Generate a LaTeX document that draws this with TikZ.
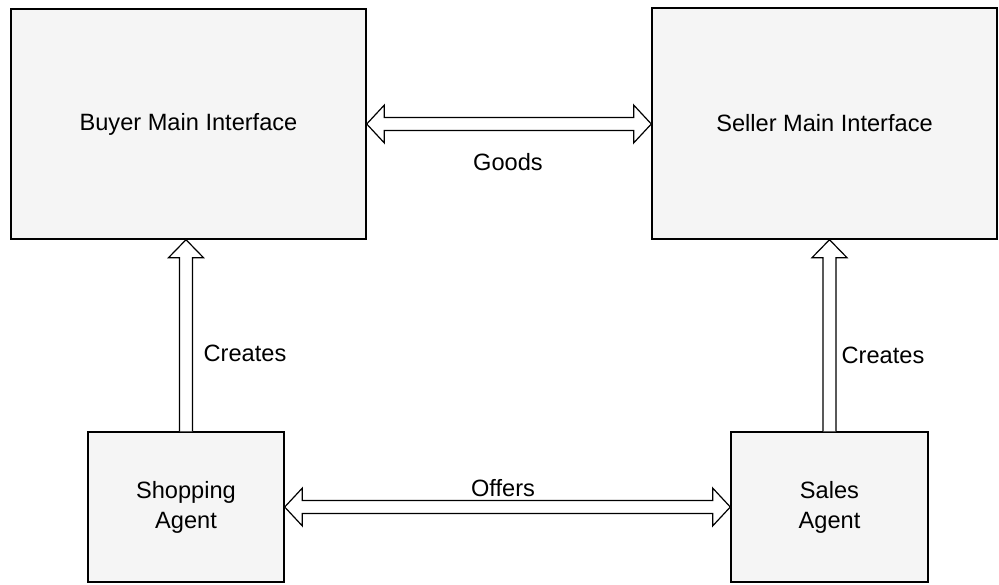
\documentclass[tikz,border=0pt]{standalone}
\usepackage{fontspec}
\setmainfont{Liberation Sans}
\usetikzlibrary{calc}
\begin{document}
\begin{tikzpicture}[x=1pt,y=-1pt,
  box/.style={draw=black,line width=1.4pt,fill=black!4,inner sep=0pt,
    align=center,font=\fontsize{23.6}{30}\selectfont},
  lbl/.style={inner sep=0pt,font=\fontsize{23.6}{28}\selectfont},
  blockarrow/.style={draw=black,line width=1.2pt,fill=white,line join=miter}]
\useasboundingbox (0,0) rectangle (999,584);

% the four components
\node[box,minimum width=355pt,minimum height=230pt] (buyer) at (188.5,124) {Buyer Main Interface};
\node[box,minimum width=345pt,minimum height=231pt] (seller) at (824.5,123.5) {Seller Main Interface};
\node[box,minimum width=196pt,minimum height=150pt] (shop) at (186,507) {Shopping\\Agent};
\node[box,minimum width=197pt,minimum height=150pt] (sales) at (829.5,507) {Sales\\Agent};

% connector end points
\coordinate (gL) at (buyer.east);
\coordinate (gR) at (seller.west |- buyer.east);
\coordinate (oL) at (shop.east);
\coordinate (oR) at (sales.west);
\coordinate (cL) at (buyer.south -| shop.north);
\coordinate (cR) at (seller.south -| sales.north);

% Goods: double block arrow between the interfaces
\draw[blockarrow] (gL) -- ($(gL)+(17.5,-18.8)$) -- ($(gL)+(17.5,-6.5)$)
  -- ($(gR)+(-17.5,-6.5)$) -- ($(gR)+(-17.5,-18.8)$) -- (gR)
  -- ($(gR)+(-17.5,18.8)$) -- ($(gR)+(-17.5,6.5)$)
  -- ($(gL)+(17.5,6.5)$) -- ($(gL)+(17.5,18.8)$) -- cycle;

% Offers: double block arrow between the agents
\draw[blockarrow] (oL) -- ($(oL)+(17.5,-18.8)$) -- ($(oL)+(17.5,-6.5)$)
  -- ($(oR)+(-17.5,-6.5)$) -- ($(oR)+(-17.5,-18.8)$) -- (oR)
  -- ($(oR)+(-17.5,18.8)$) -- ($(oR)+(-17.5,6.5)$)
  -- ($(oL)+(17.5,6.5)$) -- ($(oL)+(17.5,18.8)$) -- cycle;

% Creates: single block arrows from each agent up to its interface
\draw[blockarrow] ($(shop.north)+(-6.5,0)$) -- ($(cL)+(-6.5,18)$) -- ($(cL)+(-17.5,18)$)
  -- (cL) -- ($(cL)+(17.5,18)$) -- ($(cL)+(6.5,18)$) -- ($(shop.north)+(6.5,0)$);
\draw[blockarrow] ($(sales.north)+(-6.5,0)$) -- ($(cR)+(-6.5,18)$) -- ($(cR)+(-17.5,18)$)
  -- (cR) -- ($(cR)+(17.5,18)$) -- ($(cR)+(6.5,18)$) -- ($(sales.north)+(6.5,0)$);

% labels
\node[lbl] (goods) at (508,162) {Goods};
\node[lbl] (offers) at (503,488) {Offers};
\node[lbl] (createsL) at (245,353) {Creates};
\node[lbl] (createsR) at (883,355) {Creates};
\end{tikzpicture}
\end{document}
